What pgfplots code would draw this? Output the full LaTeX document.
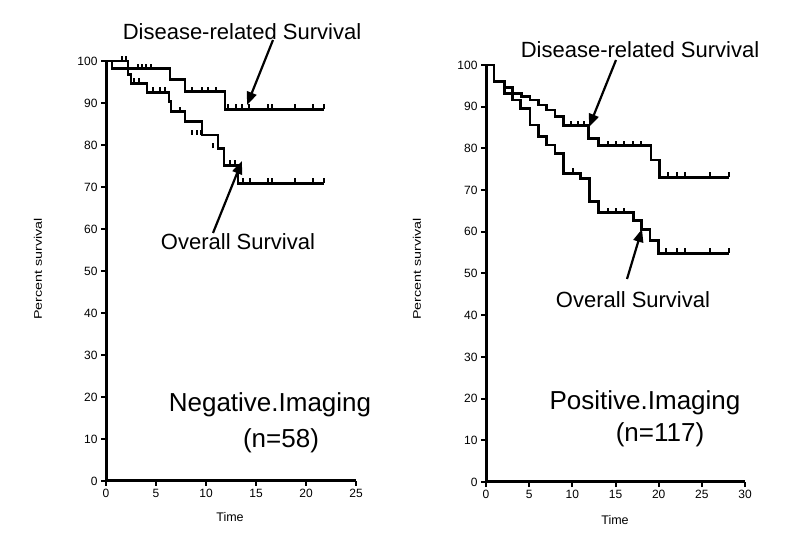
\documentclass[border=0pt]{standalone}
\usepackage{fontspec}
\setmainfont{Liberation Sans}
\usepackage{pgfplots}
\pgfplotsset{compat=1.18}
\usetikzlibrary{arrows.meta}
\pgfdeclareplotmark{cens}{\pgfpathmoveto{\pgfpoint{0pt}{0pt}}\pgfpathlineto{\pgfpoint{0pt}{5pt}}\pgfusepathqstroke}
\pgfplotsset{
  km/.style={
    scale only axis, axis lines=left,
    every outer x axis line/.append style={line width=3pt,-},
    every outer y axis line/.append style={line width=3pt,-},
    axis line style={line width=3pt,-},
    every tick/.append style={line width=2pt,black},
    major tick length=5pt, tick align=outside,
    ymin=0, ymax=100, ytick={0,10,...,100},
    /pgf/number format/assume math mode=true,
    ticklabel style={font=\fontsize{12}{14}\selectfont},
    clip=false,
  },
  curve/.style={black, line width=2.8pt, const plot, no marks, line join=miter},
  cmark/.style={black, only marks, mark=cens, mark options={line width=2pt}},
}
\begin{document}
\begin{tikzpicture}
\useasboundingbox (0pt,0pt) rectangle (800pt,546pt);
% ---------- Left panel ----------
\begin{axis}[km, at={(106pt,65pt)}, anchor=south west, width=250pt, height=420pt,
  xmin=0, xmax=25, xtick={0,5,...,25}]
\addplot[curve] coordinates {(0,100) (2.2,98.2) (6.4,95.6) (7.9,92.7) (11.9,88.5) (21.8,88.5)};
\addplot[curve] coordinates {(0,100) (0.6,98.2) (2.2,96.7) (2.5,94.7) (4.1,92.5) (6.3,90.3) (6.5,87.9) (7.9,85.5) (9.6,82.4) (11.2,79.2) (11.8,75.2) (13.2,70.9) (21.8,70.9)};
\addplot[cmark] coordinates {(1.6,100) (2.0,100) (3.2,98.2) (3.6,98.2) (4.0,98.2) (4.5,98.2) (8.6,92.7) (9.6,92.7) (10.2,92.7) (11.0,92.7) (12.2,88.5) (13.0,88.5) (13.6,88.5) (14.3,88.5) (16.2,88.5) (16.6,88.5) (18.9,88.5) (20.7,88.5) (21.8,88.5)};
\addplot[cmark] coordinates {(2.8,94.7) (3.3,94.7) (4.7,92.5) (5.4,92.5) (5.9,92.5) (7.4,87.9) (8.6,82.4) (9.1,82.4) (9.5,82.4) (10.7,79.2) (12.4,75.2) (12.9,75.2) (13.7,70.9) (14.4,70.9) (16.2,70.9) (16.6,70.9) (18.9,70.9) (20.7,70.9) (21.8,70.9)};
\end{axis}
% ---------- Right panel ----------
\begin{axis}[km, at={(486pt,64pt)}, anchor=south west, width=259pt, height=417pt,
  xmin=0, xmax=30, xtick={0,5,...,30}]
\addplot[curve] coordinates {(0,100) (0.93,96) (2.1,94.6) (3.1,93.2) (4.1,92.4) (5.1,91.6) (6.1,90.4) (7.0,89.2) (8.0,87.6) (9.0,85.4) (11.9,82.4) (13.0,80.6) (19.1,77.2) (20.1,73.1) (28.1,73.1)};
\addplot[curve] coordinates {(0,100) (0.93,96) (2.1,93.2) (3.1,91.6) (4.0,89.6) (5.1,85.6) (6.1,82.8) (7.0,80.8) (8.0,78.8) (9.0,74.0) (10.9,72.8) (12.0,67.2) (13.0,64.6) (17.1,62.8) (18.0,60.6) (19.0,58.0) (20.0,54.8) (28.1,54.8)};
\addplot[cmark] coordinates {(9.9,85.4) (10.7,85.4) (11.3,85.4) (14.1,80.6) (15.1,80.6) (16.0,80.6) (17.0,80.6) (18.0,80.6) (21.1,73.1) (22.1,73.1) (23.1,73.1) (26.0,73.1) (28.1,73.1)};
\addplot[cmark] coordinates {(10.1,74.0) (14.1,64.6) (15.1,64.6) (16.0,64.6) (20.9,54.8) (22.1,54.8) (23.1,54.8) (26.0,54.8) (28.1,54.8)};
\end{axis}
% ---------- Axis titles ----------
\node[rotate=90, xscale=1.3, transform shape, font=\fontsize{11}{13}\selectfont] at (38pt,277pt) {Percent survival};
\node[rotate=90, xscale=1.3, transform shape, font=\fontsize{11}{13}\selectfont] at (417pt,277pt) {Percent survival};
\node[font=\fontsize{12.5}{14}\selectfont] at (230pt,29pt) {Time};
\node[font=\fontsize{12.5}{14}\selectfont] at (615pt,26pt) {Time};
% ---------- Annotations ----------
\node[font=\fontsize{22}{26}\selectfont, inner sep=0pt] at (242pt,514pt) {Disease-related Survival};
\node[font=\fontsize{22}{26}\selectfont, inner sep=0pt] at (238pt,304pt) {Overall Survival};
\node[font=\fontsize{22}{26}\selectfont, inner sep=0pt] at (640pt,496pt) {Disease-related Survival};
\node[font=\fontsize{22}{26}\selectfont, inner sep=0pt] at (633pt,246pt) {Overall Survival};
\node[font=\fontsize{26}{30}\selectfont, inner sep=0pt] at (270pt,141pt) {Negative.Imaging};
\node[font=\fontsize{26}{30}\selectfont, inner sep=0pt] at (281pt,105pt) {(n=58)};
\node[font=\fontsize{26}{30}\selectfont, inner sep=0pt] at (645pt,143pt) {Positive.Imaging};
\node[font=\fontsize{26}{30}\selectfont, inner sep=0pt] at (660pt,111pt) {(n=117)};
\begin{scope}[line width=2.2pt, -{Triangle[length=13pt,width=10pt]}]
\draw (273pt,506pt) -- (247pt,441pt);
\draw (213pt,313pt) -- (242pt,385pt);
\draw (616pt,486pt) -- (589pt,419pt);
\draw (627pt,267pt) -- (642pt,317pt);
\end{scope}
\end{tikzpicture}
\end{document}
